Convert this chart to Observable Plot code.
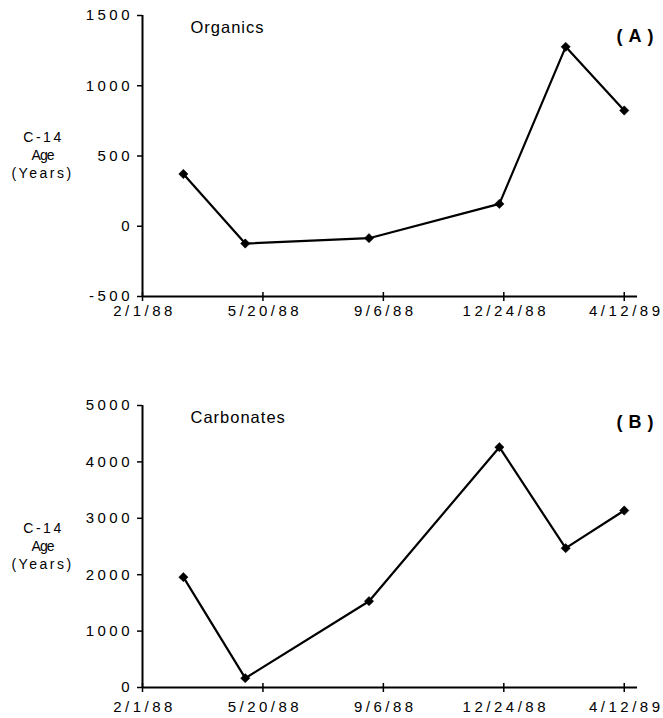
<!DOCTYPE html>
<html><head><meta charset="utf-8">
<script src="https://cdn.jsdelivr.net/npm/d3@7"></script>
<script src="https://cdn.jsdelivr.net/npm/@observablehq/plot@0.6"></script>
<style>
body{margin:0;background:#fff;}
#chart svg{display:block;}
g[aria-label="y-axis tick label"] text, g[aria-label="x-axis tick label"] text{letter-spacing:3.5px;}
text[aria-label="panel-title"]{letter-spacing:1px;}
text[aria-label="panel-letter"]{letter-spacing:6px;}
text[aria-label="ylab-spaced"]{letter-spacing:2.5px;}
text[aria-label="ylab-tight"]{letter-spacing:-1px;}
</style>
</head><body><div id="chart"></div>
<script>
// ---- data ----
const sampleDates = ["1988-03-09","1988-05-04","1988-08-24","1988-12-20","1989-02-18","1989-04-12"];
const organics = [372, -123, -85, 159, 1277, 824];
const carbonates = [1957, 165, 1530, 4261, 2470, 3138];
const tickDates = ["1988-02-01","1988-05-20","1988-09-06","1988-12-24","1989-04-12"];
const tickLabels = ["2/1/88","5/20/88","9/6/88","12/24/88","4/12/89"];
const xAxisStart = "1988-02-01";
const xAxisEnd = "1989-04-24";
const yTicksA = [-500, 0, 500, 1000, 1500];
const yTicksB = [0, 1000, 2000, 3000, 4000, 5000];
const yLabelLines = ["C-14", "Age", "(Years)"];

const parse = d3.utcParse("%Y-%m-%d");
const tDates = tickDates.map(parse);
const fmtTick = d => tickLabels[tDates.findIndex(t => +t === +d)];
const tag = name => () => name;

function panel({values, yTicks, title, letter, height, marginTop, marginBottom, xPad, letterDy}) {
  const data = sampleDates.map((d, i) => ({date: parse(d), value: values[i]}));
  const yMin = yTicks[0], yMax = yTicks[yTicks.length - 1];
  return Plot.plot({
    width: 663, height, marginTop, marginBottom, marginLeft: 142, marginRight: 26,
    style: {fontFamily: "'Liberation Sans', Arial, Helvetica, sans-serif", fontSize: "14px", color: "black", background: "white"},
    x: {type: "utc", domain: [parse(xAxisStart), parse(xAxisEnd)]},
    y: {domain: [yMin, yMax]},
    marks: [
      Plot.axisY({ticks: yTicks, tickFormat: d => String(d), tickSize: 5, tickPadding: 4.5, strokeWidth: 1.5, fontSize: 15, label: null}),
      Plot.axisX({ticks: tDates, tickFormat: fmtTick, tickSize: 0, tickPadding: xPad, dx: 2, fontSize: 15, label: null}),
      Plot.ruleX(tDates, {x: d => d, y1: yMin, y2: yMin, insetTop: -4, insetBottom: -5, strokeWidth: 1.5}),
      Plot.ruleX([parse(xAxisStart)], {strokeWidth: 2}),
      Plot.ruleY([yMin], {strokeWidth: 2}),
      Plot.line(data, {x: "date", y: "value", strokeWidth: 2.2, stroke: "black"}),
      Plot.dot(data, {x: "date", y: "value", symbol: "diamond2", r: 4.2, fill: "black", stroke: "black", strokeWidth: 0.5}),
      Plot.text([title], {frameAnchor: "top-left", dx: 48, dy: 17, lineAnchor: "bottom", textAnchor: "start", fontSize: 16.5, ariaLabel: tag("panel-title")}),
      Plot.text([letter], {frameAnchor: "top-right", dx: 22, dy: letterDy, lineAnchor: "bottom", textAnchor: "end", fontSize: 18, fontWeight: "bold", ariaLabel: tag("panel-letter")}),
      Plot.text([yLabelLines[0]], {frameAnchor: "left", dx: -99, dy: -18, textAnchor: "middle", lineAnchor: "middle", fontSize: 14, ariaLabel: tag("ylab-spaced")}),
      Plot.text([yLabelLines[1]], {frameAnchor: "left", dx: -100, dy: 0, textAnchor: "middle", lineAnchor: "middle", fontSize: 14, ariaLabel: tag("ylab-tight")}),
      Plot.text([yLabelLines[2]], {frameAnchor: "left", dx: -100, dy: 18, textAnchor: "middle", lineAnchor: "middle", fontSize: 14, ariaLabel: tag("ylab-spaced")})
    ]
  });
}

const el = document.getElementById("chart");
el.append(panel({values: organics, yTicks: yTicksA, title: "Organics", letter: "(A)", height: 360, marginTop: 15, marginBottom: 64, xPad: 9, letterDy: 26}));
el.append(panel({values: carbonates, yTicks: yTicksB, title: "Carbonates", letter: "(B)", height: 358, marginTop: 45, marginBottom: 31, xPad: 13.5, letterDy: 22}));
</script>
</body></html>
